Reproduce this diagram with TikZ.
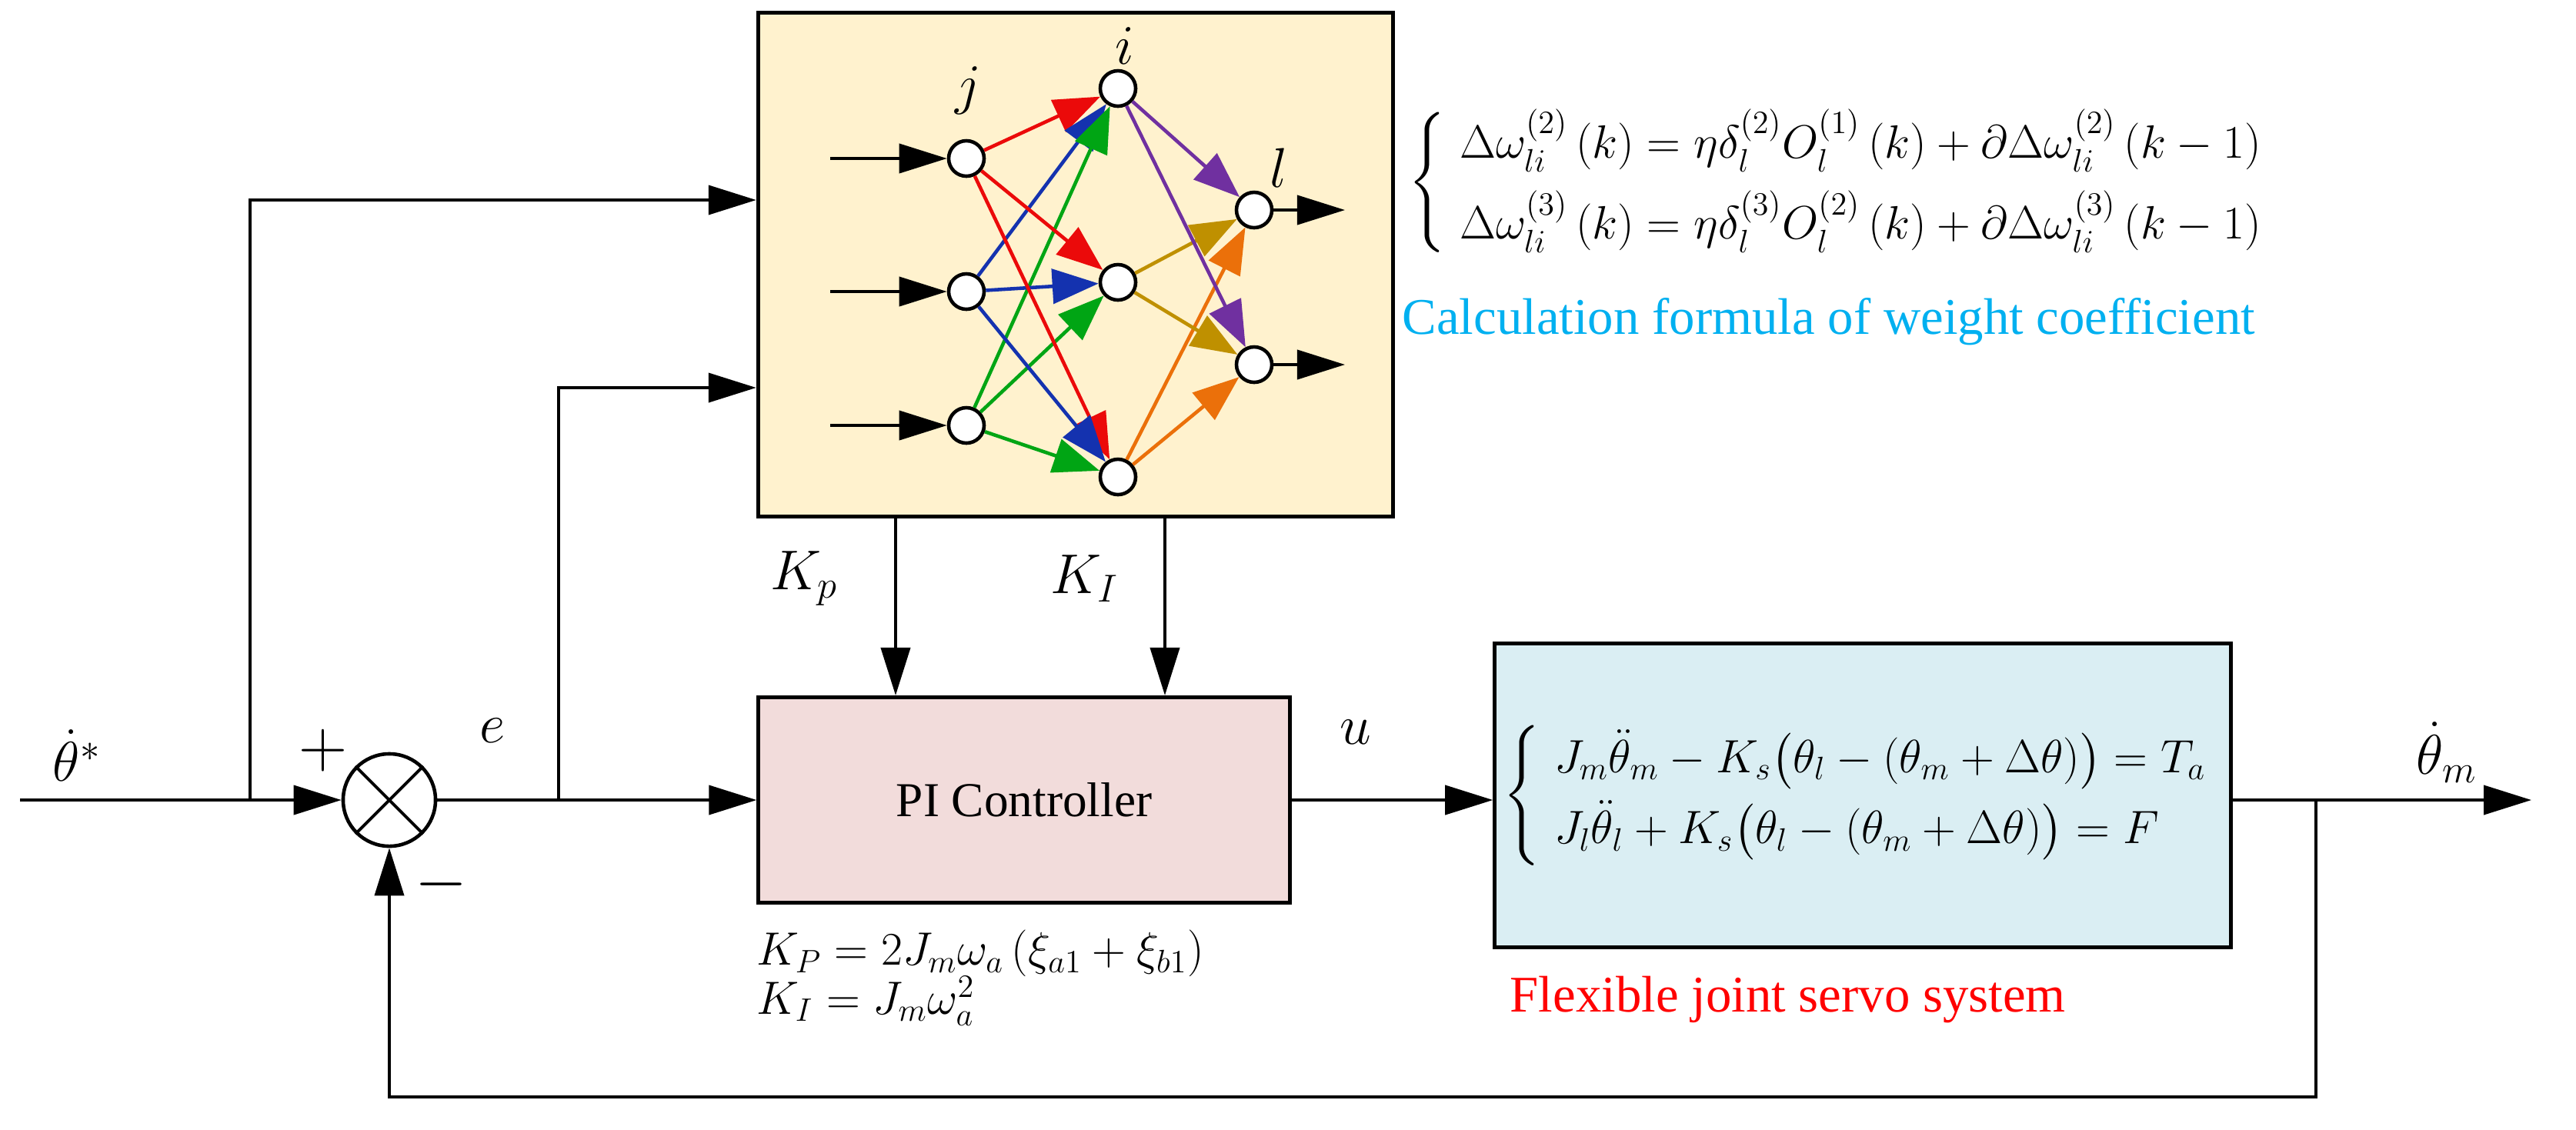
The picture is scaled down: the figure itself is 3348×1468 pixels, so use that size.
\documentclass[tikz,border=0pt]{standalone}
\usepackage{fontspec}
\setmainfont{Liberation Serif}
\usepackage{amsmath}
\usetikzlibrary{arrows.meta}
\definecolor{nnfill}{RGB}{255,242,206}
\definecolor{pifill}{RGB}{242,220,219}
\definecolor{plfill}{RGB}{218,238,243}
\definecolor{cblue}{RGB}{0,176,240}
\definecolor{ared}{RGB}{235,10,10}
\definecolor{ablue}{RGB}{20,50,175}
\definecolor{agreen}{RGB}{0,165,20}
\definecolor{apurple}{RGB}{112,48,160}
\definecolor{agold}{RGB}{191,144,0}
\definecolor{aorange}{RGB}{235,112,10}
\begin{document}
\begin{tikzpicture}[x=0.01cm,y=-0.01cm,
  blk/.style={draw,line width=1.4pt,inner sep=0pt},
  sig/.style={line width=1.1pt,-{Triangle[length=0.62cm,width=0.38cm]}},
  ln/.style={line width=1.1pt},
  neu/.style={circle,draw,line width=1.3pt,fill=white,minimum size=0.46cm,inner sep=0pt},
  nn/.style={line width=1.3pt,-{Triangle[length=0.6cm,width=0.45cm]}},
  lab/.style={font=\fontsize{22}{26}\selectfont,inner sep=1pt}]
\useasboundingbox (0,0) rectangle (3348,1468);
% blocks
\node[blk,fill=nnfill,minimum width=8.25cm,minimum height=6.55cm] (nnb) at (1398,344) {};
\node[blk,fill=pifill,minimum width=6.9cm,minimum height=2.67cm,font=\fontsize{18}{22}\selectfont] (pi) at (1331,1040) {PI Controller};
\node[blk,fill=plfill,minimum width=9.56cm,minimum height=3.95cm] (pl) at (2421,1034) {};
\node[font=\fontsize{18}{21}\selectfont] at (pl.center) {$\left\{\begin{array}{l}
J_m\ddot\theta_m-K_s\bigl(\theta_l-\left(\theta_m+\Delta\theta\right)\bigr)=T_a\\[4pt]
J_l\ddot\theta_l+K_s\bigl(\theta_l-\left(\theta_m+\Delta\theta\right)\bigr)=F
\end{array}\right.$};
% summing junction
\node[circle,draw,line width=1.3pt,minimum size=1.2cm,inner sep=0pt] (s) at (506,1040) {};
\draw[ln] (s.45)--(s.225) (s.135)--(s.315);
% coordinates
\coordinate (in) at (26,1040);
\coordinate (b1) at (325,1040);
\coordinate (b2) at (726,1040);
\coordinate (o1) at (3010,1040);
\coordinate (out) at (3290,1040);
\draw[sig] (in)--(s.west);
\draw[sig] (b1)--(325,260)--(nnb.west|-0,260);
\draw[sig] (s.east)--(pi.west);
\draw[sig] (b2)--(726,504)--(nnb.west|-0,504);
\draw[sig] (1164,0|-nnb.south)--(1164,0|-pi.north);
\draw[sig] (1514,0|-nnb.south)--(1514,0|-pi.north);
\draw[sig] (pi.east)--(pl.west|-pi.east);
\draw[sig] (pl.east|-out)--(out);
\draw[sig] (o1)--(3010,1426)--(506,1426)--(s.south);
% labels
\node[lab] at (100,982) {$\dot\theta^{*}$};
\node[font=\fontsize{28}{30}\selectfont,inner sep=0pt] at (420,976) {$+$};
\node[font=\fontsize{28}{30}\selectfont,inner sep=0pt] at (574,1150) {$-$};
\node[lab] at (640,950) {$e$};
\node[lab] at (1762,952) {$u$};
\node[lab] at (3180,978) {$\dot\theta_m$};
\node[lab] at (1045,752) {$K_p$};
\node[lab] at (1410,752) {$K_I$};
\node[anchor=north west,font=\fontsize{17}{20}\selectfont,inner sep=0pt] at (965,1205) {$\begin{array}{l}
K_P=2J_m\omega_a\left(\xi_{a1}+\xi_{b1}\right)\\[-2pt]
K_I=J_m\omega_a^{2}\end{array}$};
\node[anchor=north west,text=red,font=\fontsize{19}{22}\selectfont,inner sep=0pt] at (1962,1268) {Flexible joint servo system};
\node[anchor=west,font=\fontsize{17.5}{20}\selectfont,inner sep=0pt] at (1830,237) {$\left\{\begin{array}{l}
\Delta\omega_{li}^{(2)}\left(k\right)=\eta\delta_l^{(2)}O_l^{(1)}\left(k\right)+\partial\Delta\omega_{li}^{(2)}\left(k-1\right)\\[6pt]
\Delta\omega_{li}^{(3)}\left(k\right)=\eta\delta_l^{(3)}O_l^{(2)}\left(k\right)+\partial\Delta\omega_{li}^{(3)}\left(k-1\right)
\end{array}\right.$};
\node[anchor=west,text=cblue,font=\fontsize{19}{22}\selectfont,inner sep=0pt] at (1822,418) {Calculation formula of weight coefficient};
% neural net
\node[neu] (j1) at (1256,206) {};
\node[neu] (j2) at (1256,379) {};
\node[neu] (j3) at (1256,553) {};
\node[neu] (i1) at (1453,115) {};
\node[neu] (i2) at (1453,367) {};
\node[neu] (i3) at (1453,620) {};
\node[neu] (l1) at (1630,273) {};
\node[neu] (l2) at (1630,474) {};
\node[font=\fontsize{22}{26}\selectfont] at (1258,118) {$j$};
\node[font=\fontsize{22}{26}\selectfont] at (1462,60) {$i$};
\node[font=\fontsize{22}{26}\selectfont] at (1662,218) {$l$};
\foreach \n in {1,2,3}{
  \coordinate (x\n) at (1079,0|-j\n);
  \draw[sig] (x\n)--(j\n);}
\coordinate (y1) at (1748,0|-l1);
\coordinate (y2) at (1748,0|-l2);
\draw[sig] (l1)--(y1);
\draw[sig] (l2)--(y2);
\foreach \t in {1,2,3}{
  \draw[nn,ared] (j1)--(i\t);
  \draw[nn,ablue] (j2)--(i\t);
  \draw[nn,agreen] (j3)--(i\t);}
\foreach \t in {1,2}{
  \draw[nn,apurple] (i1)--(l\t);
  \draw[nn,agold] (i2)--(l\t);
  \draw[nn,aorange] (i3)--(l\t);}
\end{tikzpicture}
\end{document}
